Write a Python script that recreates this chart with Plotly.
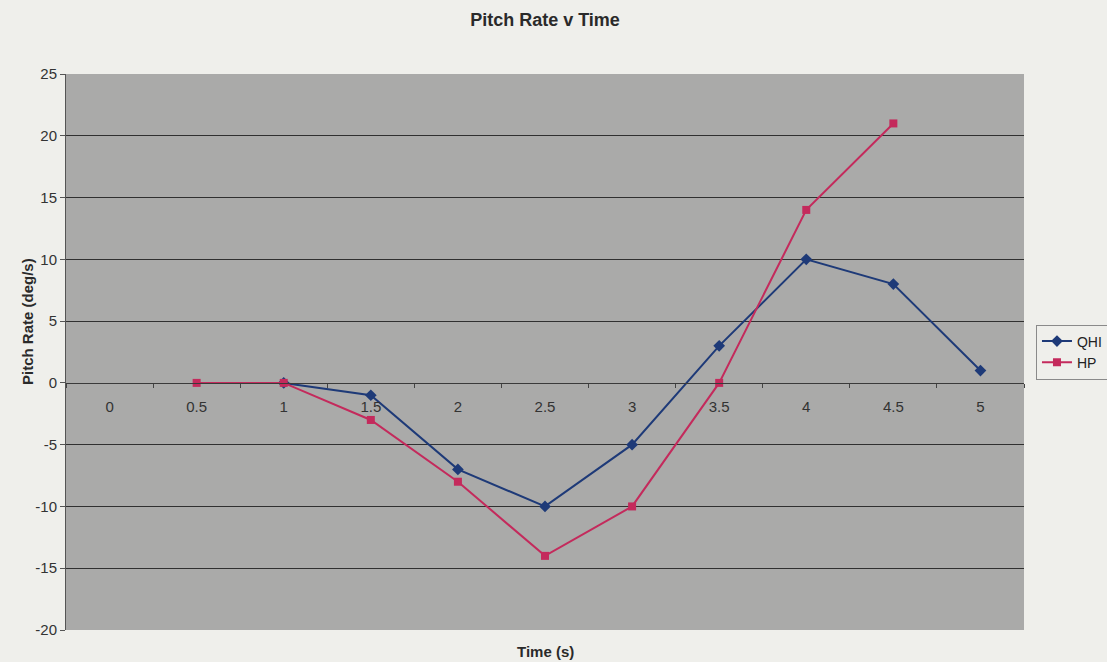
import plotly.graph_objects as go

# Time steps (s) shown as categories along the x axis
time_labels = ["0", "0.5", "1", "1.5", "2", "2.5", "3", "3.5", "4", "4.5", "5"]

# Pitch rate (deg/s) for each series; None where no sample exists
qhi = [None, None, 0, -1, -7, -10, -5, 3, 10, 8, 1]
hp = [None, 0, 0, -3, -8, -14, -10, 0, 14, 21, None]

y_ticks = [-20, -15, -10, -5, 0, 5, 10, 15, 20, 25]
y_min, y_max = -20, 25

paper_col = "#efefeb"
plot_col = "#aaaaa9"
grid_col = "#303030"
blue = "#1e3a78"
red = "#c42a5c"
font_fam = "Liberation Sans, Arial, sans-serif"

fig = go.Figure()
fig.add_trace(go.Scatter(
    x=time_labels, y=qhi, name="QHI", mode="lines+markers",
    line=dict(color=blue, width=2),
    marker=dict(symbol="diamond", size=9, color=blue),
    connectgaps=False,
))
fig.add_trace(go.Scatter(
    x=time_labels, y=hp, name="HP", mode="lines+markers",
    line=dict(color=red, width=2),
    marker=dict(symbol="square", size=8, color=red),
    connectgaps=False,
))

zero_frac = (0 - y_min) / (y_max - y_min)
# horizontal rules only inside the plot area (not on its top and bottom edges)
inner_ticks = [v for v in y_ticks if y_min < v < y_max and v != 0]

fig.update_layout(
    width=1107, height=662,
    margin=dict(l=66, r=83, t=74, b=32, autoexpand=False),
    paper_bgcolor=paper_col,
    plot_bgcolor=plot_col,
    font=dict(family=font_fam, size=15, color="#333333"),
    title=dict(text="<b>Pitch Rate v Time</b>", x=0.5, xref="paper",
               y=1 - 20 / 662, yref="container", xanchor="center",
               yanchor="middle",
               font=dict(size=18, color="#2a2a2a")),
    showlegend=True,
    legend=dict(x=1.0125, y=0.5, xanchor="left", yanchor="middle",
                bgcolor=paper_col, bordercolor="#8a8a8a", borderwidth=1,
                font=dict(size=14, color="#222222"),
                itemwidth=30, tracegroupgap=0),
    xaxis=dict(
        type="category", categoryorder="array", categoryarray=time_labels,
        range=[-0.5, len(time_labels) - 0.5],
        anchor="free", position=zero_frac,
        showline=True, linecolor="#3a3a3a", linewidth=1,
        ticks="outside", ticklen=4, tickcolor="#444444",
        tickson="boundaries", showgrid=False, zeroline=False,
        tickfont=dict(size=15, color="#333333"),
        ticklabelstandoff=10,
    ),
    yaxis=dict(
        range=[y_min, y_max], tickvals=y_ticks,
        ticktext=[str(v) for v in y_ticks],
        showline=True, linecolor="#555555", linewidth=1,
        ticks="outside", ticklen=5, tickcolor="#555555",
        showgrid=False, zeroline=False,
        minor=dict(tickvals=inner_ticks, showgrid=True, gridcolor=grid_col,
                   gridwidth=1, ticks=""),
        tickfont=dict(size=15, color="#333333"),
    ),
    annotations=[
        dict(text="<b>Time (s)</b>", x=0.5, xref="paper", y=0, yref="paper",
             yanchor="middle", yshift=-21, showarrow=False,
             font=dict(size=15, color="#2a2a2a")),
        dict(text="<b>Pitch Rate (deg/s)</b>", textangle=-90,
             x=0, xref="paper", xanchor="center", xshift=-38,
             y=0.554, yref="paper", yanchor="middle", showarrow=False,
             font=dict(size=15, color="#2a2a2a")),
    ],
)

fig.write_html("out.html")
